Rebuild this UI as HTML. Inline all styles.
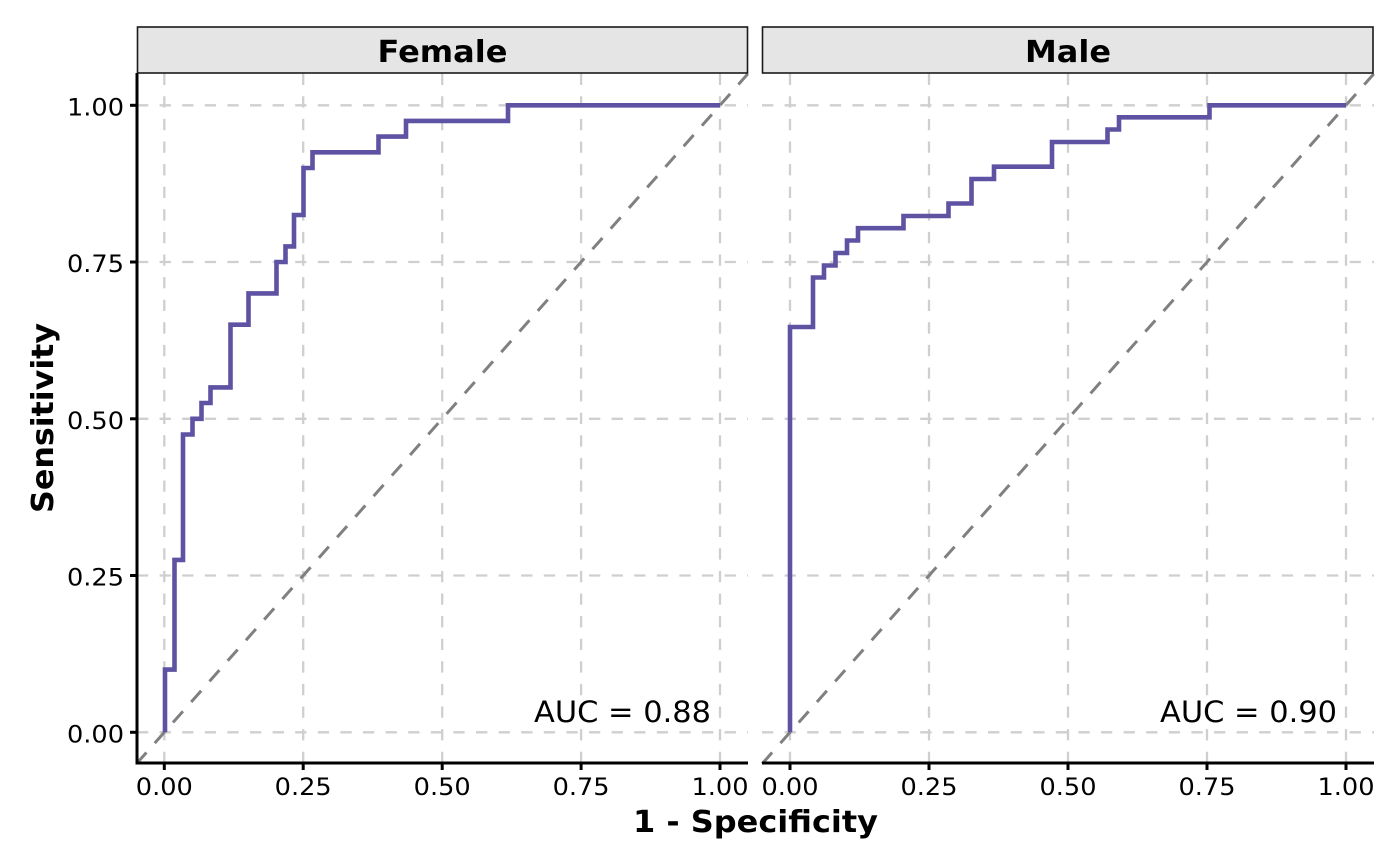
<!DOCTYPE html>
<html><head><meta charset="utf-8"><style>
html,body{margin:0;padding:0;background:#fff;}
svg{display:block;}
text{font-family:"DejaVu Sans","Liberation Sans",sans-serif;fill:#000;}
</style></head><body>
<svg width="1400" height="866" viewBox="0 0 1400 866" xmlns="http://www.w3.org/2000/svg">
<rect x="0" y="0" width="1400" height="866" fill="#fff"/>
<!-- Female grid -->
<g stroke="#cfcfcf" stroke-width="2.3" stroke-dasharray="11.3 11.3" fill="none">
<line x1="137" y1="732.3" x2="748" y2="732.3"/>
<line x1="137" y1="575.5" x2="748" y2="575.5"/>
<line x1="137" y1="418.8" x2="748" y2="418.8"/>
<line x1="137" y1="262" x2="748" y2="262"/>
<line x1="137" y1="105.3" x2="748" y2="105.3"/>
<line x1="164.3" y1="763" x2="164.3" y2="73"/>
<line x1="303.2" y1="763" x2="303.2" y2="73"/>
<line x1="442.2" y1="763" x2="442.2" y2="73"/>
<line x1="581.1" y1="763" x2="581.1" y2="73"/>
<line x1="720" y1="763" x2="720" y2="73"/>
<!-- Male grid -->
<line x1="762" y1="732.3" x2="1374" y2="732.3"/>
<line x1="762" y1="575.5" x2="1374" y2="575.5"/>
<line x1="762" y1="418.8" x2="1374" y2="418.8"/>
<line x1="762" y1="262" x2="1374" y2="262"/>
<line x1="762" y1="105.3" x2="1374" y2="105.3"/>
<line x1="790" y1="763" x2="790" y2="73"/>
<line x1="929" y1="763" x2="929" y2="73"/>
<line x1="1068" y1="763" x2="1068" y2="73"/>
<line x1="1207" y1="763" x2="1207" y2="73"/>
<line x1="1346" y1="763" x2="1346" y2="73"/>
</g>
<!-- diagonals -->
<g stroke="#808080" stroke-width="3" stroke-dasharray="15 12.5" fill="none">
<line x1="136.5" y1="763.7" x2="747.8" y2="73.9"/>
<line x1="762.2" y1="763.7" x2="1373.8" y2="73.9"/>
</g>
<!-- curves -->
<g stroke="#5E52A3" stroke-width="4.6" fill="none" stroke-linejoin="miter">
<path d="M165,732.3 V669.6 H174.5 V559.9 H183 V434.5 H192.5 V418.8 H201.5 V403 H210.5 V387.4 H230.5 V324.7 H248.5 V293.4 H276.5 V262 H285.5 V246.4 H294 V215 H303.5 V168 H312.5 V152.3 H378.5 V136.6 H406 V120.9 H508 V105.3 H720"/>
<path d="M790,732.3 V327 H813 V277.5 H824 V265.5 H835.5 V253 H847 V240.5 H858 V228.2 H903.5 V216 H948.5 V203.5 H971.5 V179 H994 V166.7 H1052 V142 H1107.5 V129.5 H1119 V117.3 H1209.5 V105.3 H1346"/>
</g>
<!-- strips -->
<rect x="137.5" y="27" width="610" height="46" fill="#e5e5e5" stroke="#1a1a1a" stroke-width="1.6"/>
<rect x="762.5" y="27" width="610.5" height="46" fill="#e5e5e5" stroke="#1a1a1a" stroke-width="1.6"/>
<text x="442.5" y="62" font-size="30" font-weight="bold" text-anchor="middle" textLength="130" lengthAdjust="spacingAndGlyphs">Female</text>
<text x="1068" y="62" font-size="30" font-weight="bold" text-anchor="middle" textLength="86" lengthAdjust="spacingAndGlyphs">Male</text>
<!-- axes -->
<g stroke="#000" stroke-width="3" fill="none">
<line x1="137" y1="73" x2="137" y2="764.5"/>
<line x1="135.5" y1="763" x2="748" y2="763"/>
<line x1="762" y1="763" x2="1374" y2="763"/>
<!-- y ticks -->
<line x1="130" y1="732.3" x2="137" y2="732.3"/>
<line x1="130" y1="575.5" x2="137" y2="575.5"/>
<line x1="130" y1="418.8" x2="137" y2="418.8"/>
<line x1="130" y1="262" x2="137" y2="262"/>
<line x1="130" y1="105.3" x2="137" y2="105.3"/>
<!-- x ticks -->
<line x1="164.3" y1="763" x2="164.3" y2="770"/>
<line x1="303.2" y1="763" x2="303.2" y2="770"/>
<line x1="442.2" y1="763" x2="442.2" y2="770"/>
<line x1="581.1" y1="763" x2="581.1" y2="770"/>
<line x1="720" y1="763" x2="720" y2="770"/>
<line x1="790" y1="763" x2="790" y2="770"/>
<line x1="929" y1="763" x2="929" y2="770"/>
<line x1="1068" y1="763" x2="1068" y2="770"/>
<line x1="1207" y1="763" x2="1207" y2="770"/>
<line x1="1346" y1="763" x2="1346" y2="770"/>
</g>
<!-- y tick labels -->
<g font-size="24" text-anchor="end">
<text x="124" y="742.3" textLength="57" lengthAdjust="spacingAndGlyphs">0.00</text>
<text x="124" y="585.5" textLength="57" lengthAdjust="spacingAndGlyphs">0.25</text>
<text x="124" y="428.8" textLength="57" lengthAdjust="spacingAndGlyphs">0.50</text>
<text x="124" y="272" textLength="57" lengthAdjust="spacingAndGlyphs">0.75</text>
<text x="124" y="115.3" textLength="57" lengthAdjust="spacingAndGlyphs">1.00</text>
</g>
<!-- x tick labels -->
<g font-size="24" text-anchor="middle">
<text x="164.3" y="795" textLength="57" lengthAdjust="spacingAndGlyphs">0.00</text>
<text x="303.2" y="795" textLength="57" lengthAdjust="spacingAndGlyphs">0.25</text>
<text x="442.2" y="795" textLength="57" lengthAdjust="spacingAndGlyphs">0.50</text>
<text x="581.1" y="795" textLength="57" lengthAdjust="spacingAndGlyphs">0.75</text>
<text x="720" y="795" textLength="57" lengthAdjust="spacingAndGlyphs">1.00</text>
<text x="790" y="795" textLength="57" lengthAdjust="spacingAndGlyphs">0.00</text>
<text x="929" y="795" textLength="57" lengthAdjust="spacingAndGlyphs">0.25</text>
<text x="1068" y="795" textLength="57" lengthAdjust="spacingAndGlyphs">0.50</text>
<text x="1207" y="795" textLength="57" lengthAdjust="spacingAndGlyphs">0.75</text>
<text x="1346" y="795" textLength="57" lengthAdjust="spacingAndGlyphs">1.00</text>
</g>
<!-- AUC labels -->
<text x="711" y="722" font-size="29" text-anchor="end" textLength="177" lengthAdjust="spacingAndGlyphs">AUC = 0.88</text>
<text x="1337" y="722" font-size="29" text-anchor="end" textLength="177" lengthAdjust="spacingAndGlyphs">AUC = 0.90</text>
<!-- axis titles -->
<text x="755.5" y="832" font-size="30" font-weight="bold" text-anchor="middle" textLength="245" lengthAdjust="spacingAndGlyphs">1 - Specificity</text>
<text transform="translate(53,418) rotate(-90)" x="0" y="0" font-size="30" font-weight="bold" text-anchor="middle" textLength="190" lengthAdjust="spacingAndGlyphs">Sensitivity</text>
</svg>
</body></html>
